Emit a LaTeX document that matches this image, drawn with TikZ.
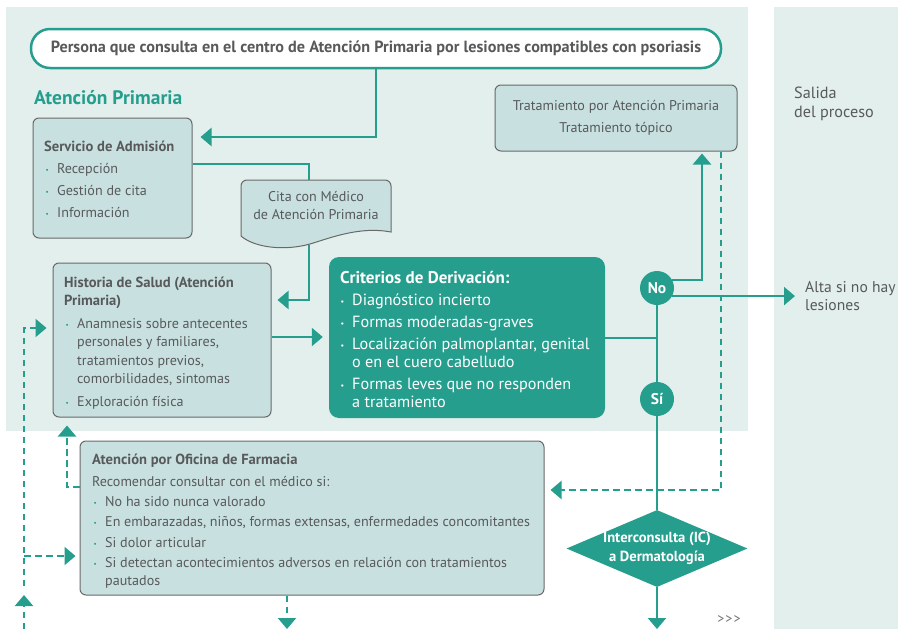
\documentclass[tikz,border=0pt]{standalone}
\usepackage{fontspec}
\setmainfont{PT Sans}
\usetikzlibrary{arrows.meta,shapes.geometric,calc}
\definecolor{teal1}{RGB}{38,158,142}
\definecolor{panel}{RGB}{226,239,236}
\definecolor{boxfill}{RGB}{200,225,224}
\definecolor{boxline}{RGB}{105,105,105}
\definecolor{txt}{RGB}{88,89,91}
\newcommand\bul[1][teal1]{\makebox[13pt][l]{\hspace*{1.5pt}\textcolor{#1}{\raisebox{1pt}{\fontsize{7}{7}\selectfont\textbullet}}}}
\newcommand\wbul{\makebox[12pt][l]{\hspace*{0.5pt}\textcolor{white}{\raisebox{1pt}{\fontsize{8}{8}\selectfont\textbullet}}}}
\newcommand\ind{\hspace*{13pt}}
\newcommand\wind{\hspace*{12pt}}
\newcommand\ttl[1]{{\bfseries\fontsize{14.6}{14.6}\selectfont #1}}
\begin{document}
\begin{tikzpicture}[x=1pt,y=-1pt,
  line/.style={draw=teal1, line width=2.4pt},
  arr/.style={line, -{Triangle[length=11pt,width=18pt]}},
  dline/.style={line, line width=2.2pt, dash pattern=on 6.5pt off 4.5pt},
  darr/.style={dline, -{Triangle[length=11pt,width=18pt]}},
  box/.style={draw=boxline, fill=boxfill, line width=1pt, rounded corners=6pt, inner sep=0pt},
  tx/.style={inner sep=0pt, text=txt, anchor=base west},
  wt/.style={inner sep=0pt, text=white, anchor=base west},
]
\useasboundingbox (0,0) rectangle (900,629);
% panels
\fill[panel] (6,7) rectangle (748,431);
\fill[panel] (774,7) rectangle (898,629);

% top pill
\node[draw=teal1, line width=2.5pt, fill=white, rounded corners=19pt, minimum width=690pt, minimum height=39pt, inner sep=0pt,
  text=txt, font=\bfseries\fontsize{16.2}{19}\selectfont] (pers) at (376,48.5)
  {Persona que consulta en el centro de Atención Primaria por lesiones compatibles con psoriasis};

\node[tx, text=teal1, font=\bfseries\fontsize{19.5}{22}\selectfont] (aph) at (34,104) {Atención Primaria};

% Servicio de Admision
\node[box, minimum width=159pt, minimum height=120pt] (adm) at (112.5,178) {};
\node[tx] (admtxt) at (44,151) {\parbox[t]{150pt}{\fontsize{14.1}{22}\selectfont\raggedright
  \ttl{Servicio de Admisión}\\
  \bul Recepción\\
  \bul Gestión de cita\\
  \bul Información}};

% Cita document
\fill[boxfill] (241,236) [rounded corners=6pt]-- (241,180) -- (391,180) [sharp corners]-- (391,232)
  .. controls (360,226) and (330,238) .. (310,244) .. controls (285,251) and (255,248) .. (241,236) -- cycle;
\draw[boxline, line width=1pt] (241,236) [rounded corners=6pt]-- (241,180) -- (391,180) [sharp corners]-- (391,232)
  .. controls (360,226) and (330,238) .. (310,244) .. controls (285,251) and (255,248) .. (241,236) -- cycle;
\node[inner sep=0pt, text=txt, align=center, font=\fontsize{14.1}{18}\selectfont] (cita) at (316,206)
  {Cita con Médico\\de Atención Primaria};
\coordinate (citain) at (309,180);
\coordinate (citaout) at (309,245);

% Historia de Salud
\node[box, minimum width=218pt, minimum height=154pt] (hist) at (162,340) {};
\node[tx] (histtxt) at (64,287) {\parbox[t]{205pt}{\fontsize{14.1}{18.5}\selectfont\raggedright
  \ttl{Historia de Salud (Atención}\\
  \ttl{Primaria)}\\[4pt]
  \bul Anamnesis sobre antecentes\\
  \ind personales y familiares,\\
  \ind tratamientos previos,\\
  \ind comorbilidades, sintomas\\[4pt]
  \bul Exploración física}};

% Criterios
\node[fill=teal1, rounded corners=10pt, minimum width=276pt, minimum height=161pt, inner sep=0pt] (crit) at (467,337.5) {};
\node[wt] (crittxt) at (340,283) {\parbox[t]{262pt}{\fontsize{16.2}{18}\selectfont\raggedright
  {\bfseries\fontsize{17}{18}\selectfont Criterios de Derivación:}\\[4pt]
  \wbul Diagnóstico incierto\\[4pt]
  \wbul Formas moderadas-graves\\[4pt]
  \wbul Localización palmoplantar, genital\\
  \wind o en el cuero cabelludo\\[4pt]
  \wbul Formas leves que no responden\\
  \wind a tratamiento}};

% Tratamiento
\node[box, minimum width=242pt, minimum height=66pt, text=txt, align=center, font=\fontsize{14.1}{22}\selectfont] (trat) at (616,118)
  {Tratamiento por Atención Primaria\\Tratamiento tópico};

% Farmacia
\node[box, minimum width=464pt, minimum height=154pt] (farm) at (312,518) {};
\node[tx] (farmtxt) at (92,464) {\parbox[t]{445pt}{\fontsize{14.1}{18}\selectfont\raggedright
  \ttl{Atención por Oficina de Farmacia}\\[4pt]
  Recomendar consultar con el médico si:\\[2pt]
  \bul No ha sido nunca valorado\\[2pt]
  \bul En embarazadas, niños, formas extensas, enfermedades concomitantes\\[3pt]
  \bul Si dolor articular\\[2pt]
  \bul Si detectan acontecimientos adversos en relación con tratamientos\\
  \ind pautados}};

% decision circles
\node[circle, fill=teal1, minimum size=34pt, inner sep=0pt, text=white, font=\bfseries\fontsize{15.5}{15.5}\selectfont] (no) at (657,288) {No};
\node[circle, fill=teal1, minimum size=34pt, inner sep=0pt, text=white, font=\bfseries\fontsize{15.5}{15.5}\selectfont] (si) at (657,399) {Sí};

% diamond
\node[diamond, fill=teal1, minimum width=181pt, minimum height=77pt, inner sep=0pt] (ic) at (657,548.5) {};
\node[inner sep=0pt, text=white, align=center, font=\bfseries\fontsize{14.6}{19}\selectfont] (ictxt) at (657,548.5)
  {Interconsulta (IC)\\a Dermatología};

% right side texts
\node[tx, font=\fontsize{15.6}{18}\selectfont] (alta) at (805,292) {\parbox[t]{92pt}{\raggedright Alta si no hay\\lesiones}};
\node[tx, font=\fontsize{16.2}{19}\selectfont] (salida) at (794,98) {\parbox[t]{100pt}{\raggedright Salida\\del proceso}};
\node[text=txt!85, inner sep=0pt, font=\fontsize{14}{14}\selectfont] (more) at (729,620) {>\kern1pt>\kern1pt>};

% connectors
\draw[arr, shorten >=8pt] (pers.south -| 376,0) |- (adm.east |- 0,137);
\draw[line] (adm.east |- 0,164) -| (citain);
\draw[arr, shorten >=6pt] (citaout) |- (hist.east |- 0,300);
\draw[arr, shorten >=6pt] (hist.east |- 0,337) -- (crit.west |- 0,337);
\coordinate (jn) at (657,338);
\draw[line] (crit.east |- jn) -- (jn);
\draw[line] (no) -- (si);
\draw[line] (si) -- (ic.north);
\draw[arr, shorten >=2pt] (no.28) -| (trat.south -| 702,0);
\draw[arr, shorten >=10pt] (no.-28) -- (alta.west |- no.-28);
\coordinate (icb) at (657,629);
\draw[arr] (ic.south) -- (icb);

% dashed connectors
\draw[darr, shorten >=6pt] (trat.south -| 721,0) |- (farm.east |- 0,490);
\draw[darr, shorten >=8pt] (farm.west |- 0,487) -| (hist.south -| 67,0);
\coordinate (lb) at (24,629);
\coordinate (lj) at (24,586);
\draw[darr, shorten >=9pt] (lb) -- (lj);
\draw[darr, shorten >=6pt] (lj) |- (hist.west |- 0,328);
\draw[darr, shorten >=4pt] (lj |- 0,556) -- (farm.west |- 0,556);
\coordinate (fb) at (287,629);
\draw[darr] (farm.south -| fb) -- (fb);
\end{tikzpicture}
\end{document}
